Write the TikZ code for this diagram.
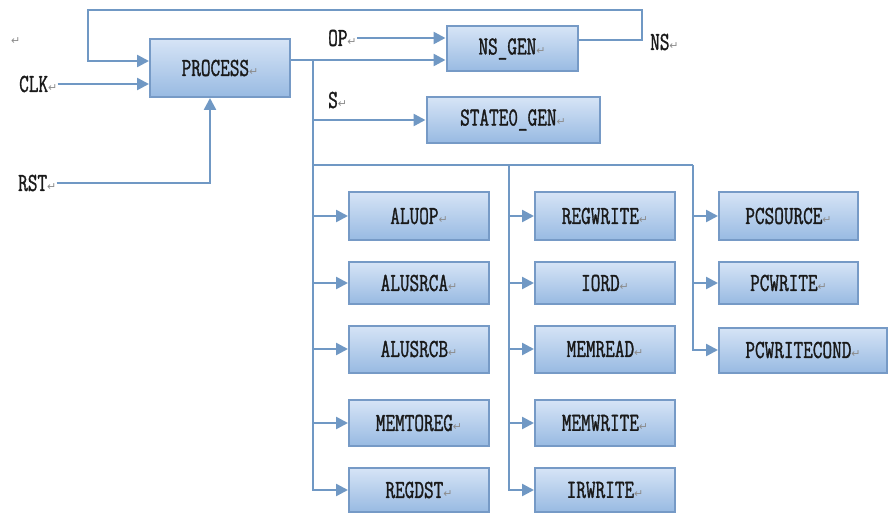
\documentclass[tikz,border=0pt]{standalone}
\usepackage{fontspec}
\usetikzlibrary{arrows.meta}
\newfontfamily\boxfont{Latin Modern Mono}[FakeStretch=0.72,FakeBold=1.2]
\newfontfamily\symfont{DejaVu Sans}
\definecolor{linec}{RGB}{112,152,196}
\definecolor{boxborder}{RGB}{118,154,198}
\definecolor{boxtop}{RGB}{214,228,246}
\definecolor{boxbot}{RGB}{152,186,226}
\newcommand\ret{{\symfont\fontsize{11}{11}\selectfont\color{black!45}↵}}
\tikzset{
  blk/.style={draw=boxborder, line width=2pt, top color=boxtop, bottom color=boxbot,
    minimum height=45pt, minimum width=140pt, inner sep=0pt,
    font=\boxfont\fontsize{26}{26}\selectfont, text=black!90},
  lbl/.style={anchor=west, inner sep=0pt, font=\boxfont\fontsize{26}{26}\selectfont, text=black!90},
  conn/.style={draw=linec, line width=2.5pt},
  arr/.style={conn, -{Triangle[length=12pt,width=12pt]}}
}
\begin{document}
\begin{tikzpicture}[x=1pt,y=-1pt]
\useasboundingbox[fill=white] (0,0) rectangle (888,516);
% boxes
\node[blk, minimum height=58pt] (process) at (220,68) {PROCESS\ret};
\node[blk, minimum width=131pt] (nsgen) at (512,49) {NS\_GEN\ret};
\node[blk, minimum width=173pt] (state0) at (513,120) {STATE0\_GEN\ret};
\node[blk, minimum height=48pt] (aluop) at (419,216) {ALUOP\ret};
\node[blk, minimum height=42pt] (alusrca) at (419,283) {ALUSRCA\ret};
\node[blk, minimum height=47pt] (alusrcb) at (419,349) {ALUSRCB\ret};
\node[blk, minimum height=46pt] (memtoreg) at (419,423) {MEMTOREG\ret};
\node[blk, minimum height=44pt] (regdst) at (419,490) {REGDST\ret};
\node[blk, minimum height=48pt] (regwrite) at (605,216) {REGWRITE\ret};
\node[blk, minimum height=42pt] (iord) at (605,283) {IORD\ret};
\node[blk, minimum height=47pt] (memread) at (605,349) {MEMREAD\ret};
\node[blk, minimum height=46pt] (memwrite) at (605,423) {MEMWRITE\ret};
\node[blk, minimum height=44pt] (irwrite) at (605,490) {IRWRITE\ret};
\node[blk, minimum height=48pt, minimum width=139pt] (pcsource) at (788.5,216) {PCSOURCE\ret};
\node[blk, minimum height=42pt, minimum width=139pt] (pcwrite) at (788.5,283) {PCWRITE\ret};
\node[blk, minimum height=45pt, minimum width=168pt] (pcwritecond) at (803,350) {PCWRITECOND\ret};
% labels
\node[anchor=west, inner sep=0pt] (para) at (11,41) {\ret};
\node[lbl] (clk) at (19,84) {CLK\ret};
\node[lbl] (rst) at (18,183) {RST\ret};
\node[lbl] (op) at (328,38) {OP\ret};
\node[lbl] (s) at (328,100) {S\ret};
\node[lbl] (ns) at (650,42) {NS\ret};
% coordinates
\coordinate (bus) at (313,60);
\coordinate (bus2) at (509,165);
\coordinate (bus3) at (693,165);
% connectors
\draw[arr] ([yshift=9pt]nsgen.east) -- (642,40) |- (88,10) |- ([yshift=7pt]process.west);
\draw[arr] (clk.east) -- (clk.east -| process.west);
\draw[arr] (rst.east) -| ([xshift=-10pt]process.south);
\draw[arr] (op.east) -- (op.east -| nsgen.west);
\draw[arr] ([yshift=8pt]process.east) -- ([yshift=8pt]process.east -| nsgen.west);
\draw[arr] (bus) |- (regdst.west);
\draw[arr] (bus |- state0.west) -- (state0.west);
\draw[conn] (bus |- bus2) -- (bus3);
\foreach \n in {aluop,alusrca,alusrcb,memtoreg}
  \draw[arr] (bus |- \n.west) -- (\n.west);
\draw[arr] (bus2) |- (irwrite.west);
\foreach \n in {regwrite,iord,memread,memwrite}
  \draw[arr] (bus2 |- \n.west) -- (\n.west);
\draw[arr] (bus3) |- (pcwritecond.west);
\foreach \n in {pcsource,pcwrite}
  \draw[arr] (bus3 |- \n.west) -- (\n.west);
\end{tikzpicture}
\end{document}
